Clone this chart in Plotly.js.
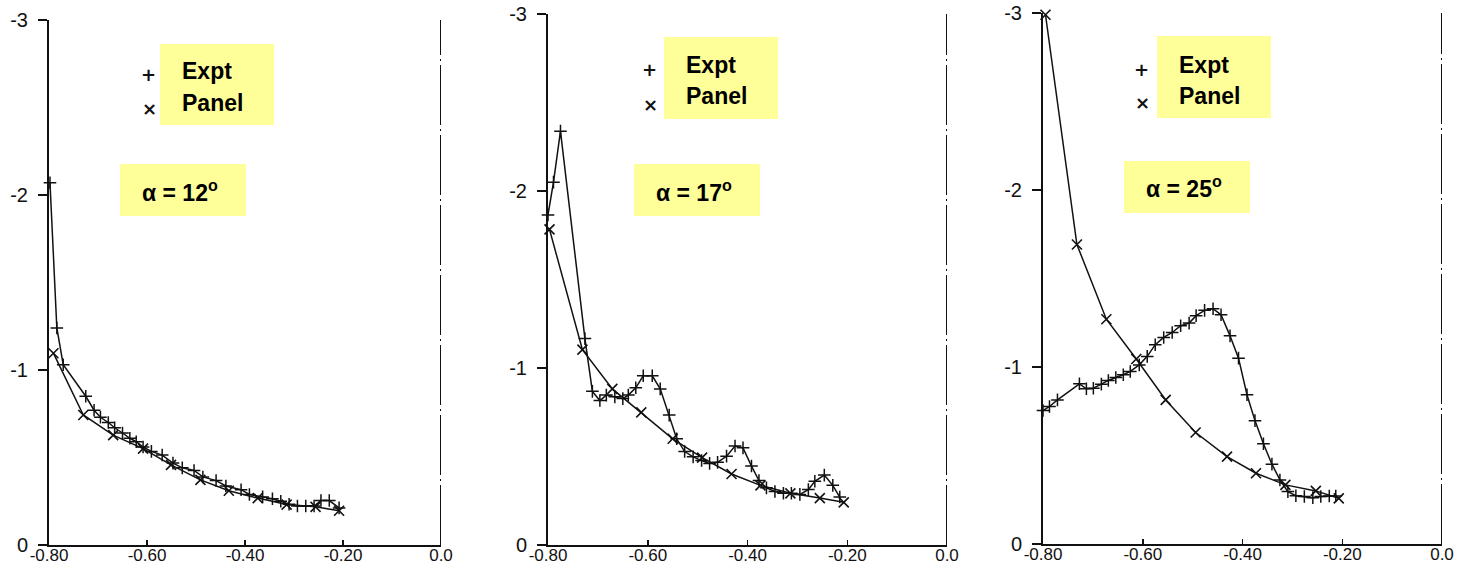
<!DOCTYPE html>
<html>
<head>
<meta charset="utf-8">
<script src="https://cdn.plot.ly/plotly-3.0.1.min.js"></script>
<style>html,body{margin:0;padding:0;background:#fff;}#chart{width:1474px;height:570px;}</style>
</head>
<body>
<div id="chart"></div>
<script>
// ---------- data ----------
const xTickVals = [-0.8, -0.6, -0.4, -0.2, 0.0];
const xTickText = ["-0.80", "-0.60", "-0.40", "-0.20", "0.0"];
const yTickVals = [-3, -2, -1, 0];
const yTickText = ["-3", "-2", "-1", "0"];
const seriesNames = ["Expt", "Panel"];
const alphaLabels = ["12", "17", "25"];

// alpha = 12
const p1ExptX = [-0.798, -0.784, -0.771, -0.725, -0.708, -0.695, -0.679, -0.666, -0.650, -0.635, -0.622, -0.608, -0.591, -0.569, -0.547, -0.528, -0.504, -0.486, -0.459, -0.439, -0.408, -0.391, -0.364, -0.344, -0.327, -0.310, -0.293, -0.276, -0.259, -0.245, -0.228, -0.208];
const p1ExptY = [-2.07, -1.24, -1.03, -0.85, -0.77, -0.73, -0.70, -0.67, -0.64, -0.61, -0.59, -0.56, -0.535, -0.514, -0.468, -0.441, -0.426, -0.389, -0.368, -0.337, -0.316, -0.289, -0.275, -0.264, -0.250, -0.233, -0.223, -0.223, -0.223, -0.254, -0.254, -0.212];
const p1PanelX = [-0.791, -0.730, -0.669, -0.608, -0.551, -0.491, -0.433, -0.374, -0.315, -0.256, -0.208];
const p1PanelY = [-1.096, -0.743, -0.628, -0.551, -0.458, -0.372, -0.310, -0.268, -0.231, -0.218, -0.196];

// alpha = 17
const p2ExptX = [-0.800, -0.789, -0.775, -0.726, -0.711, -0.696, -0.683, -0.666, -0.650, -0.639, -0.624, -0.609, -0.591, -0.575, -0.557, -0.542, -0.526, -0.509, -0.492, -0.476, -0.460, -0.442, -0.425, -0.409, -0.392, -0.377, -0.362, -0.345, -0.328, -0.312, -0.295, -0.278, -0.265, -0.246, -0.229, -0.215];
const p2ExptY = [-1.865, -2.05, -2.338, -1.166, -0.868, -0.816, -0.847, -0.837, -0.827, -0.847, -0.888, -0.956, -0.956, -0.882, -0.734, -0.600, -0.528, -0.498, -0.477, -0.461, -0.467, -0.502, -0.559, -0.549, -0.446, -0.364, -0.323, -0.302, -0.292, -0.292, -0.286, -0.313, -0.360, -0.395, -0.337, -0.271];
const p2PanelX = [-0.797, -0.731, -0.671, -0.613, -0.550, -0.491, -0.432, -0.374, -0.314, -0.255, -0.207];
const p2PanelY = [-1.783, -1.104, -0.882, -0.749, -0.600, -0.494, -0.401, -0.337, -0.292, -0.265, -0.241];

// alpha = 25
const p3ExptX = [-0.800, -0.787, -0.771, -0.727, -0.713, -0.699, -0.683, -0.669, -0.654, -0.639, -0.625, -0.607, -0.591, -0.575, -0.558, -0.541, -0.524, -0.507, -0.493, -0.476, -0.459, -0.443, -0.425, -0.408, -0.391, -0.375, -0.358, -0.341, -0.325, -0.309, -0.293, -0.276, -0.259, -0.243, -0.226, -0.213];
const p3ExptY = [-0.754, -0.777, -0.814, -0.905, -0.877, -0.880, -0.903, -0.924, -0.941, -0.956, -0.975, -1.012, -1.060, -1.126, -1.167, -1.195, -1.233, -1.248, -1.290, -1.320, -1.329, -1.295, -1.176, -1.050, -0.843, -0.697, -0.566, -0.451, -0.362, -0.296, -0.273, -0.268, -0.262, -0.268, -0.271, -0.271];
const p3PanelX = [-0.795, -0.732, -0.673, -0.613, -0.554, -0.494, -0.431, -0.373, -0.314, -0.253, -0.207];
const p3PanelY = [-2.99, -1.692, -1.270, -1.045, -0.814, -0.630, -0.494, -0.400, -0.334, -0.300, -0.258];

// ---------- layout helpers ----------
const W = 1474, H = 570;
const fx = p => p / W;
const fy = p => 1 - p / H;

const panels = [
  {ex: p1ExptX, ey: p1ExptY, px: p1PanelX, py: p1PanelY, ax: '', dom: [49, 441], ydom: [545, 20],
   box: [160, 274, 44, 125], plus: [148, 75], cross: [149, 108], t1: [180, 71], t2: [180, 103],
   abox: [120, 246, 164, 216], at: [140, 191]},
  {ex: p2ExptX, ey: p2ExptY, px: p2PanelX, py: p2PanelY, ax: '2', dom: [548, 947], ydom: [545, 14],
   box: [664, 778, 37, 119], plus: [649, 69], cross: [650, 104], t1: [684, 65], t2: [684, 96],
   abox: [634, 760, 164, 216], at: [654, 191]},
  {ex: p3ExptX, ey: p3ExptY, px: p3PanelX, py: p3PanelY, ax: '3', dom: [1043, 1442], ydom: [544, 13],
   box: [1157, 1271, 36, 118], plus: [1141, 69], cross: [1142, 102], t1: [1177, 65], t2: [1177, 96],
   abox: [1124, 1250, 161, 213], at: [1144, 187]}
];

const traces = [];
const shapes = [];
const annotations = [];
const layout = {
  width: W, height: H,
  margin: {l: 0, r: 0, t: 0, b: 0},
  paper_bgcolor: '#ffffff', plot_bgcolor: '#ffffff',
  showlegend: false
};

const xTickFont = {family: 'Liberation Sans, Arial, sans-serif', size: 17, color: '#111'};
const yTickFont = {family: 'Liberation Sans, Arial, sans-serif', size: 20, color: '#111'};
const boxFont = {family: 'Liberation Sans, Arial, sans-serif', size: 23, color: '#000'};

panels.forEach((p, i) => {
  const xa = 'x' + p.ax, ya = 'y' + p.ax;
  traces.push({
    x: p.ex, y: p.ey, xaxis: xa, yaxis: ya, name: seriesNames[0],
    type: 'scatter', mode: 'lines+markers', cliponaxis: false,
    line: {color: '#111', width: 1.5},
    marker: {symbol: 'cross-thin-open', size: 9, color: '#111', line: {color: '#111', width: 1.5}}
  });
  traces.push({
    x: p.px, y: p.py, xaxis: xa, yaxis: ya, name: seriesNames[1],
    type: 'scatter', mode: 'lines+markers', cliponaxis: false,
    line: {color: '#111', width: 1.5},
    marker: {symbol: 'x-thin-open', size: 10, color: '#111', line: {color: '#111', width: 1.6}}
  });
  layout['xaxis' + p.ax] = {
    domain: [fx(p.dom[0]), fx(p.dom[1])], anchor: ya,
    range: [-0.8, 0.0], autorange: false,
    tickvals: xTickVals, ticktext: xTickText,
    ticks: 'inside', ticklen: 5, tickwidth: 1.5, tickcolor: '#111',
    showline: true, linecolor: '#111', linewidth: 2,
    showgrid: false, zeroline: false, tickfont: xTickFont, ticklabelstandoff: -6
  };
  layout['yaxis' + p.ax] = {
    domain: [fy(p.ydom[0]), fy(p.ydom[1])], anchor: xa,
    range: [0, -3], autorange: false,
    tickvals: yTickVals, ticktext: yTickText,
    ticks: 'outside', ticklen: 9, tickwidth: 1.5, tickcolor: '#111',
    showline: true, linecolor: '#111', linewidth: 2,
    showgrid: false, zeroline: false, tickfont: yTickFont, ticklabelstandoff: 6
  };
  // dash-dot frame line at x = 0
  shapes.push({type: 'line', xref: xa, yref: ya, x0: 0, x1: 0, y0: 0, y1: -3,
    line: {color: '#111', width: 2, dash: '60px,4px,2px,4px'}});
  // yellow legend box
  shapes.push({type: 'rect', xref: 'paper', yref: 'paper', layer: 'below',
    x0: fx(p.box[0]), x1: fx(p.box[1]), y0: fy(p.box[3]), y1: fy(p.box[2]),
    fillcolor: '#FFFF99', line: {width: 0}});
  // yellow alpha box
  shapes.push({type: 'rect', xref: 'paper', yref: 'paper', layer: 'below',
    x0: fx(p.abox[0]), x1: fx(p.abox[1]), y0: fy(p.abox[3]), y1: fy(p.abox[2]),
    fillcolor: '#FFFF99', line: {width: 0}});
  annotations.push({xref: 'paper', yref: 'paper', x: fx(p.plus[0]), y: fy(p.plus[1]),
    xanchor: 'center', yanchor: 'middle', showarrow: false, text: '<b>+</b>',
    font: {family: 'DejaVu Sans', size: 18, color: '#111'}});
  annotations.push({xref: 'paper', yref: 'paper', x: fx(p.cross[0]), y: fy(p.cross[1]),
    xanchor: 'center', yanchor: 'middle', showarrow: false, text: '<b>×</b>',
    font: {family: 'DejaVu Sans', size: 18, color: '#111'}});
  annotations.push({xref: 'paper', yref: 'paper', x: fx(p.t1[0]), y: fy(p.t1[1]),
    xanchor: 'left', yanchor: 'middle', showarrow: false, text: '<b>' + seriesNames[0] + '</b>', font: boxFont});
  annotations.push({xref: 'paper', yref: 'paper', x: fx(p.t2[0]), y: fy(p.t2[1]),
    xanchor: 'left', yanchor: 'middle', showarrow: false, text: '<b>' + seriesNames[1] + '</b>', font: boxFont});
  annotations.push({xref: 'paper', yref: 'paper', x: fx(p.at[0]), y: fy(p.at[1]),
    xanchor: 'left', yanchor: 'middle', showarrow: false,
    text: '<b>α = ' + alphaLabels[i] + '<sup>o</sup></b>', font: boxFont});
});

layout.shapes = shapes;
layout.annotations = annotations;

Plotly.newPlot('chart', traces, layout, {displayModeBar: false, staticPlot: true});
</script>
</body>
</html>
